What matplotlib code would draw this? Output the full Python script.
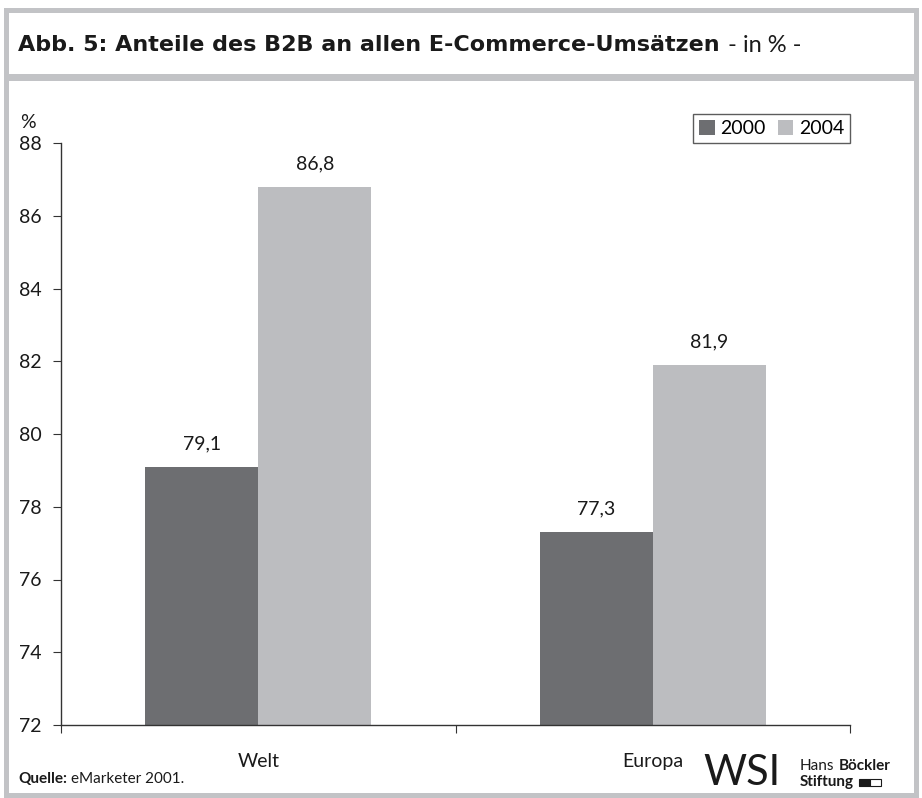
import matplotlib.pyplot as plt
from matplotlib.patches import Rectangle

# Data
regions = ['Welt', 'Europa']
years = ['2000', '2004']
share_2000 = [79.1, 77.3]
share_2004 = [86.8, 81.9]
y_ticks = [72, 74, 76, 78, 80, 82, 84, 86, 88]

dark = '#6d6e71'
light = '#bcbdc0'
frame = '#c2c3c6'
ink = '#1a1a1a'

plt.rcParams['font.family'] = ['Lato', 'DejaVu Sans']

W, H = 922, 798
fig = plt.figure(figsize=(W / 100, H / 100), dpi=100)
fig.patch.set_facecolor('white')
renderer = fig.canvas.get_renderer()


def px(x, y):
    return x / W, 1 - y / H


def chain(x, y, parts, gap=4):
    # write texts one after another on one line
    for s, kw in parts:
        t = fig.text(*px(x, y), s, ha='left', va='center', color=ink, **kw)
        x += t.get_window_extent(renderer).width + gap
    return x


# frames around title and chart
for (x0, y0, x1, y1) in [(6, 10, 916, 76), (6, 78, 916, 795)]:
    fig.patches.append(Rectangle(px(x0, y1), (x1 - x0) / W, (y1 - y0) / H,
                                 transform=fig.transFigure, fill=False,
                                 edgecolor=frame, linewidth=3.6))

chain(18, 45, [('Abb. 5: Anteile des B2B an allen E-Commerce-Umsätzen',
                dict(fontsize=16, fontweight='bold', family='DejaVu Sans')),
               ('- in % -', dict(fontsize=17))], gap=8)

ax = fig.add_axes([61 / W, 1 - 725 / H, (850 - 61) / W, (725 - 143) / H])
x = range(len(regions))
w = 0.287
b1 = ax.bar([i - w / 2 for i in x], [v - 72 for v in share_2000], w, bottom=72,
            color=dark, label=years[0])
b2 = ax.bar([i + w / 2 for i in x], [v - 72 for v in share_2004], w, bottom=72,
            color=light, label=years[1])

for bars, vals in [(b1, share_2000), (b2, share_2004)]:
    for bar, v in zip(bars, vals):
        ax.text(bar.get_x() + bar.get_width() / 2, v + 0.4,
                f'{v:.1f}'.replace('.', ','), ha='center', va='bottom',
                fontsize=14, color=ink)

ax.set_xlim(-0.5, 1.5)
ax.set_ylim(72, 88)
ax.set_yticks(y_ticks)
ax.set_xticks([-0.5, 0.5, 1.5])
ax.set_xticklabels([])
ax.set_xticks([0, 1], minor=True)
ax.set_xticklabels(regions, minor=True)
ax.tick_params(axis='x', which='minor', length=0, pad=20, labelsize=14, labelcolor=ink)
ax.tick_params(axis='x', which='major', length=6, direction='out', color='#333333')
ax.tick_params(axis='y', length=6, direction='out', labelsize=14, pad=8, color='#333333',
               labelcolor=ink)
for s in ['top', 'right']:
    ax.spines[s].set_visible(False)
for s in ['left', 'bottom']:
    ax.spines[s].set_color('#333333')
    ax.spines[s].set_linewidth(1)

fig.text(*px(20, 122), '%', fontsize=14, ha='left', va='center', color=ink)

leg = ax.legend(loc='upper right', bbox_to_anchor=(1.0, 1.05), ncol=2, frameon=True,
                fancybox=False, edgecolor='#333333', fontsize=14, handlelength=0.8,
                handleheight=0.8, handletextpad=0.3, columnspacing=0.6,
                borderpad=0.3, borderaxespad=0)
leg.get_frame().set_linewidth(1)

# source and logo
chain(18, 779, [('Quelle:', dict(fontsize=11, fontweight='bold')),
                ('eMarketer 2001.', dict(fontsize=11))], gap=4)
fig.text(*px(703, 773), 'WSI', fontsize=30, ha='left', va='center', color=ink)
chain(800, 766, [('Hans', dict(fontsize=11)),
                 ('Böckler', dict(fontsize=11, fontweight='bold'))], gap=4)
xe = chain(800, 782, [('Stiftung', dict(fontsize=11, fontweight='bold'))], gap=5)
fig.patches.append(Rectangle(px(xe, 786), 11 / W, 7 / H, transform=fig.transFigure,
                             facecolor=ink, edgecolor=ink, linewidth=0.8))
fig.patches.append(Rectangle(px(xe + 11, 786), 11 / W, 7 / H, transform=fig.transFigure,
                             facecolor='white', edgecolor=ink, linewidth=0.8))

fig.savefig('out.png', dpi=100)
